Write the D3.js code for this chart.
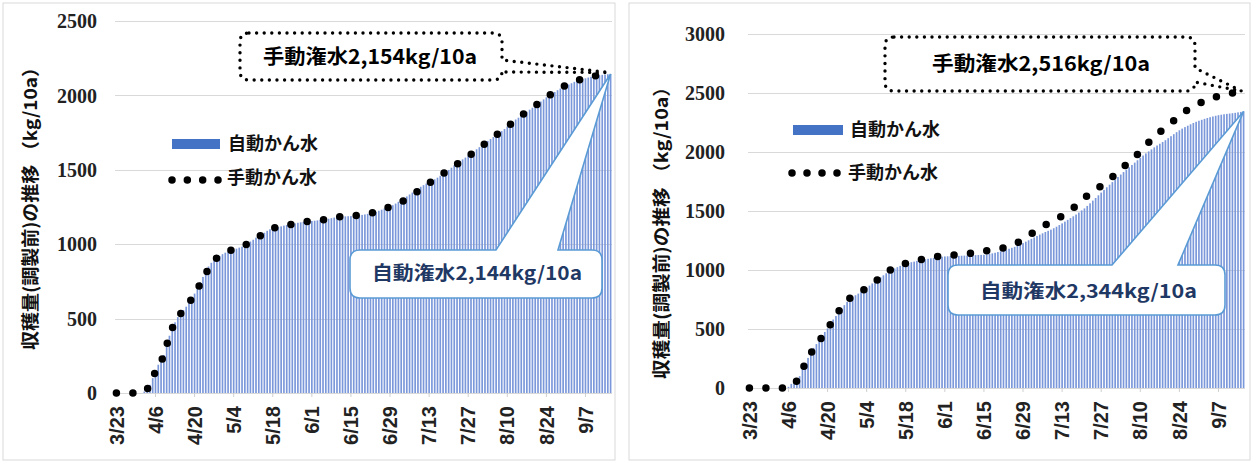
<!DOCTYPE html>
<html><head><meta charset="utf-8">
<script src="https://cdn.jsdelivr.net/npm/d3@7"></script>
<style>html,body{margin:0;padding:0;background:#fff;} svg{display:block;}</style>
</head><body><svg id="chart" width="1253" height="464"></svg>
<script>
// ---------- data ----------
const tickLabels = ["3/23","4/6","4/20","5/4","5/18","6/1","6/15","6/29","7/13","7/27","8/10","8/24","9/7"];
const seriesNames = ["自動かん水", "手動かん水"];
const yTitle = "収穫量(調製前)の推移 （kg/10a）";
const leftYTicks = [0, 500, 1000, 1500, 2000, 2500];
const rightYTicks = [0, 500, 1000, 1500, 2000, 2500, 3000];

// daily cumulative values 3/23 .. 9/16 (自動かん水, bars)
const leftAuto = [
  0,0,0,0,0,0,0,0,0,0,
  10,30,55,100,145,190,225,255,320,385,
  435,475,510,535,558,580,607,640,668,700,
  745,780,815,850,875,890,905,920,933,943,
  950,956,962,970,977,983,995,1005,1018,1030,
  1044,1055,1065,1077,1090,1100,1106,1110,1115,1120,
  1125,1129,1133,1136,1140,1144,1147,1150,1152,1154,
  1156,1158,1160,1162,1164,1167,1171,1175,1179,1183,
  1185,1186,1187,1188,1189,1190,1192,1194,1197,1200,
  1204,1208,1212,1218,1225,1232,1240,1246,1252,1262,
  1273,1285,1296,1308,1321,1334,1347,1360,1374,1386,
  1397,1408,1419,1429,1436,1447,1460,1474,1487,1499,
  1514,1530,1546,1560,1570,1582,1595,1608,1622,1638,
  1652,1666,1680,1694,1707,1720,1733,1746,1760,1774,
  1790,1806,1822,1838,1850,1863,1877,1890,1904,1917,
  1931,1945,1959,1973,1987,1999,2011,2023,2035,2046,
  2055,2064,2073,2082,2091,2099,2105,2110,2115,2120,
  2125,2129,2132,2135,2138,2140,2142,2144
];
// 手動かん水 (dotted line)
const leftManualDates = ["3/23","4/1","4/4","4/6","4/9","4/11","4/13","4/17","4/20","4/23","4/27","5/1","5/7","5/13","5/18","5/24","5/30","6/5","6/11","6/17","6/23","6/29","7/5","7/10","7/15","7/20","7/25","7/30","8/4","8/9","8/14","8/19","8/24","8/29","9/4","9/10","9/16"];
const leftManualValues = [0,0,55,145,255,385,475,580,662,768,890,943,983,1050,1105,1131,1151,1163,1185,1193,1212,1252,1304,1370,1436,1499,1565,1630,1707,1774,1850,1917,1987,2048,2099,2130,2154];
const leftAutoLabel = "自動潅水2,144kg/10a";
const leftManualLabel = "手動潅水2,154kg/10a";

const rightAuto = [
  0,0,0,0,0,0,0,0,0,0,0,0,0,0,
  10,35,60,80,100,160,
  210,255,300,340,372,408,442,475,505,540,
  580,610,640,670,702,730,752,770,786,800,
  814,832,850,868,886,902,920,938,955,972,
  990,1002,1013,1024,1035,1045,1053,1060,1066,1071,
  1077,1082,1087,1091,1095,1099,1103,1107,1110,1113,
  1115,1116,1117,1118,1119,1120,1121,1122,1123,1124,
  1125,1126,1127,1128,1129,1132,1136,1141,1146,1152,
  1158,1165,1172,1180,1188,1196,1206,1217,1228,1240,
  1252,1264,1276,1288,1300,1311,1322,1332,1342,1354,
  1367,1381,1395,1410,1425,1440,1455,1470,1487,1505,
  1522,1543,1565,1588,1610,1633,1656,1679,1701,1723,
  1745,1767,1788,1809,1830,1850,1870,1890,1910,1930,
  1950,1970,1988,2005,2022,2039,2055,2070,2085,2100,
  2117,2134,2151,2168,2184,2198,2211,2223,2235,2246,
  2256,2265,2273,2281,2288,2295,2301,2307,2312,2316,
  2320,2323,2326,2329,2332,2336,2340,2344
];
const rightManualDates = ["3/23","4/5","4/10","4/12","4/16","4/20","4/23","4/27","5/2","5/7","5/12","5/18","5/24","5/31","6/6","6/12","6/19","6/25","6/30","7/6","7/12","7/17","7/22","7/27","8/1","8/6","8/10","8/15","8/20","8/25","8/30","9/4","9/10","9/16"];
const rightManualValues = [0,0,96,210,364,500,616,740,816,900,994,1057,1091,1120,1130,1147,1177,1206,1276,1370,1443,1525,1630,1714,1808,1917,2002,2130,2223,2326,2398,2451,2490,2516];
const rightAutoLabel = "自動潅水2,344kg/10a";
const rightManualLabel = "手動潅水2,516kg/10a";

// categories: every day from 3/23 to 9/16
const fmtDay = d3.timeFormat("%-m/%-d");
const days = d3.timeDay.range(new Date(2020, 2, 23), new Date(2020, 8, 17)).map(fmtDay);

// ---------- drawing ----------
const svg = d3.select("#chart");
const CJK = "'Noto Sans CJK JP','Noto Sans',sans-serif";

function calloutTop(x0, y0, x1, y1, r, wa, wb, tx, ty) {
  return `M${x0+r},${y0} L${wa},${y0} L${tx},${ty} L${wb},${y0} L${x1-r},${y0} Q${x1},${y0} ${x1},${y0+r}
    L${x1},${y1-r} Q${x1},${y1} ${x1-r},${y1} L${x0+r},${y1} Q${x0},${y1} ${x0},${y1-r} L${x0},${y0+r} Q${x0},${y0} ${x0+r},${y0} Z`;
}
function calloutRight(x0, y0, x1, y1, r, ya, yb, tx, ty) {
  return `M${x0+r},${y0} L${x1-r},${y0} Q${x1},${y0} ${x1},${y0+r} L${x1},${ya} L${tx},${ty} L${x1},${yb}
    L${x1},${y1-r} Q${x1},${y1} ${x1-r},${y1} L${x0+r},${y1} Q${x0},${y1} ${x0},${y1-r} L${x0},${y0+r} Q${x0},${y0} ${x0+r},${y0} Z`;
}

function drawPanel(c) {
  const g = svg.append("g");
  g.append("rect").attr("x", c.frame[0]).attr("y", c.frame[1])
    .attr("width", c.frame[2]-c.frame[0]).attr("height", c.frame[3]-c.frame[1])
    .attr("fill", "#fff").attr("stroke", "#d9d9d9").attr("stroke-width", 1);

  const x = d3.scaleBand().domain(days).range(c.xRange).paddingInner(0.4).paddingOuter(0.2);
  const y = d3.scaleLinear().domain([0, c.yMax]).range([c.yBase, c.yTop]);
  const cx = d => x(d) + x.bandwidth()/2;

  // gridlines
  g.append("g").selectAll("line").data(c.yTicks.filter(v => v > 0)).join("line")
    .attr("x1", c.xRange[0]).attr("x2", c.xRange[1])
    .attr("y1", d => Math.round(y(d)) + 0.5).attr("y2", d => Math.round(y(d)) + 0.5)
    .attr("stroke", "#d9d9d9").attr("stroke-width", 1);

  // y tick labels
  g.append("g").selectAll("text").data(c.yTicks).join("text")
    .attr("x", c.yLabelX).attr("y", d => y(d)).attr("dy", "0.36em")
    .attr("text-anchor", "end")
    .attr("font-family", "'Liberation Serif','Times New Roman',serif")
    .attr("font-weight", "bold").attr("font-size", 20).attr("fill", "#222")
    .text(d => d);

  // bars
  g.append("g").selectAll("rect").data(c.auto).join("rect")
    .attr("x", (d, i) => x(days[i])).attr("width", x.bandwidth())
    .attr("y", d => y(d)).attr("height", d => y(0) - y(d))
    .attr("fill", "#7b98da");

  // x axis line + ticks
  g.append("line").attr("x1", c.xRange[0]).attr("x2", c.xRange[1])
    .attr("y1", Math.round(y(0)) + 0.5).attr("y2", Math.round(y(0)) + 0.5)
    .attr("stroke", "#d9d9d9");
  g.append("g").selectAll("line").data(tickLabels).join("line")
    .attr("x1", d => cx(d)).attr("x2", d => cx(d))
    .attr("y1", y(0)).attr("y2", y(0) + 4).attr("stroke", "#d0d0d0");
  g.append("g").selectAll("text").data(tickLabels).join("text")
    .attr("transform", d => `translate(${cx(d)},${y(0) + 13}) rotate(-90)`)
    .attr("dy", "0.36em").attr("text-anchor", "end")
    .attr("font-family", "'Liberation Sans',Arial,sans-serif")
    .attr("font-weight", "bold").attr("font-size", 20).attr("fill", "#222")
    .text(d => d);

  // y title
  g.append("text")
    .attr("transform", `translate(${c.titleX},${c.titleY}) rotate(-90)`)
    .attr("text-anchor", "middle").attr("dy", "0.36em")
    .attr("font-family", CJK).attr("font-weight", "bold").attr("font-size", 18)
    .attr("textLength", c.titleLen).attr("lengthAdjust", "spacingAndGlyphs")
    .attr("fill", "#111").text(yTitle);

  // auto callout
  const lastDay = days[days.length - 1];
  const at = c.autoBox;
  g.append("path")
    .attr("d", calloutTop(at.x0, at.y0, at.x1, at.y1, 10, at.wa, at.wb, cx(lastDay), y(c.auto[c.auto.length-1])))
    .attr("fill", "#fff").attr("stroke", "#5b9bd5").attr("stroke-width", 1.6);
  g.append("text").attr("x", at.tx).attr("y", at.ty).attr("dy", "0.36em")
    .attr("font-family", CJK).attr("font-weight", "bold").attr("font-size", 19)
    .attr("textLength", at.tl).attr("lengthAdjust", "spacingAndGlyphs")
    .attr("fill", "#1f3864").text(c.autoLabel);

  // manual dotted line
  const pts = c.manualDates.map((d, i) => [cx(d), y(c.manualValues[i])]);
  g.append("path").attr("d", d3.line().curve(d3.curveMonotoneX)(pts))
    .attr("fill", "none").attr("stroke", "#000").attr("stroke-width", 7.5)
    .attr("stroke-linecap", "round").attr("stroke-dasharray", "0 16.5");

  // manual callout
  const mb = c.manBox;
  const lastPt = pts[pts.length - 1];
  g.append("path")
    .attr("d", calloutRight(mb.x0, mb.y0, mb.x1, mb.y1, 9, mb.ya, mb.yb, lastPt[0] - 2, lastPt[1]))
    .attr("fill", "#fff").attr("stroke", "#000").attr("stroke-width", 3.4)
    .attr("stroke-linecap", "round").attr("stroke-dasharray", "0 7.6");
  g.append("text").attr("x", mb.tx).attr("y", mb.ty).attr("dy", "0.36em")
    .attr("font-family", CJK).attr("font-weight", "bold").attr("font-size", 20)
    .attr("textLength", mb.tl).attr("lengthAdjust", "spacingAndGlyphs")
    .attr("fill", "#000").text(c.manualLabel);

  // legend
  const L = c.legend;
  g.append("rect").attr("x", L.rx).attr("y", L.ry).attr("width", L.rw).attr("height", L.rh).attr("fill", "#4472c4");
  g.append("text").attr("x", L.t1x).attr("y", L.t1y).attr("dy", "0.36em")
    .attr("font-family", CJK).attr("font-weight", "bold").attr("font-size", 18)
    .attr("fill", "#111").text(seriesNames[0]);
  g.append("line").attr("x1", L.dx0).attr("x2", L.dx1 + 0.5).attr("y1", L.dy).attr("y2", L.dy)
    .attr("stroke", "#000").attr("stroke-width", 7.5).attr("stroke-linecap", "round")
    .attr("stroke-dasharray", `0 ${(L.dx1 - L.dx0) / 3}`);
  g.append("text").attr("x", L.t2x).attr("y", L.t2y).attr("dy", "0.36em")
    .attr("font-family", CJK).attr("font-weight", "bold").attr("font-size", 18)
    .attr("fill", "#111").text(seriesNames[1]);
}

drawPanel({
  frame: [3, 3, 615, 460], xRange: [115, 612], yBase: 393, yTop: 21, yMax: 2500,
  yTicks: leftYTicks, yLabelX: 97, titleX: 31, titleY: 204, titleLen: 292,
  auto: leftAuto, manualDates: leftManualDates, manualValues: leftManualValues,
  autoLabel: leftAutoLabel, manualLabel: leftManualLabel,
  autoBox: {x0: 350, y0: 250, x1: 602, y1: 298, wa: 496, wb: 558, tx: 372, ty: 273, tl: 210},
  manBox: {x0: 240, y0: 33, x1: 502, y1: 80, ya: 60, yb: 72, tx: 263, ty: 57, tl: 214},
  legend: {rx: 172, ry: 139, rw: 48, rh: 10, t1x: 228, t1y: 144, dx0: 172, dx1: 218, dy: 180, t2x: 227, t2y: 178}
});
drawPanel({
  frame: [629, 3, 1250, 460], xRange: [748, 1245], yBase: 388, yTop: 34, yMax: 3000,
  yTicks: rightYTicks, yLabelX: 725, titleX: 662, titleY: 228, titleLen: 302,
  auto: rightAuto, manualDates: rightManualDates, manualValues: rightManualValues,
  autoLabel: rightAutoLabel, manualLabel: rightManualLabel,
  autoBox: {x0: 948, y0: 265, x1: 1225, y1: 315, wa: 1112, wb: 1178, tx: 980, ty: 291, tl: 217},
  manBox: {x0: 885, y0: 37, x1: 1195, y1: 91, ya: 68, yb: 82, tx: 932, ty: 64, tl: 218},
  legend: {rx: 793, ry: 125, rw: 50, rh: 10, t1x: 850, t1y: 130, dx0: 792, dx1: 837, dy: 173, t2x: 848, t2y: 173}
});
</script>
</body></html>
